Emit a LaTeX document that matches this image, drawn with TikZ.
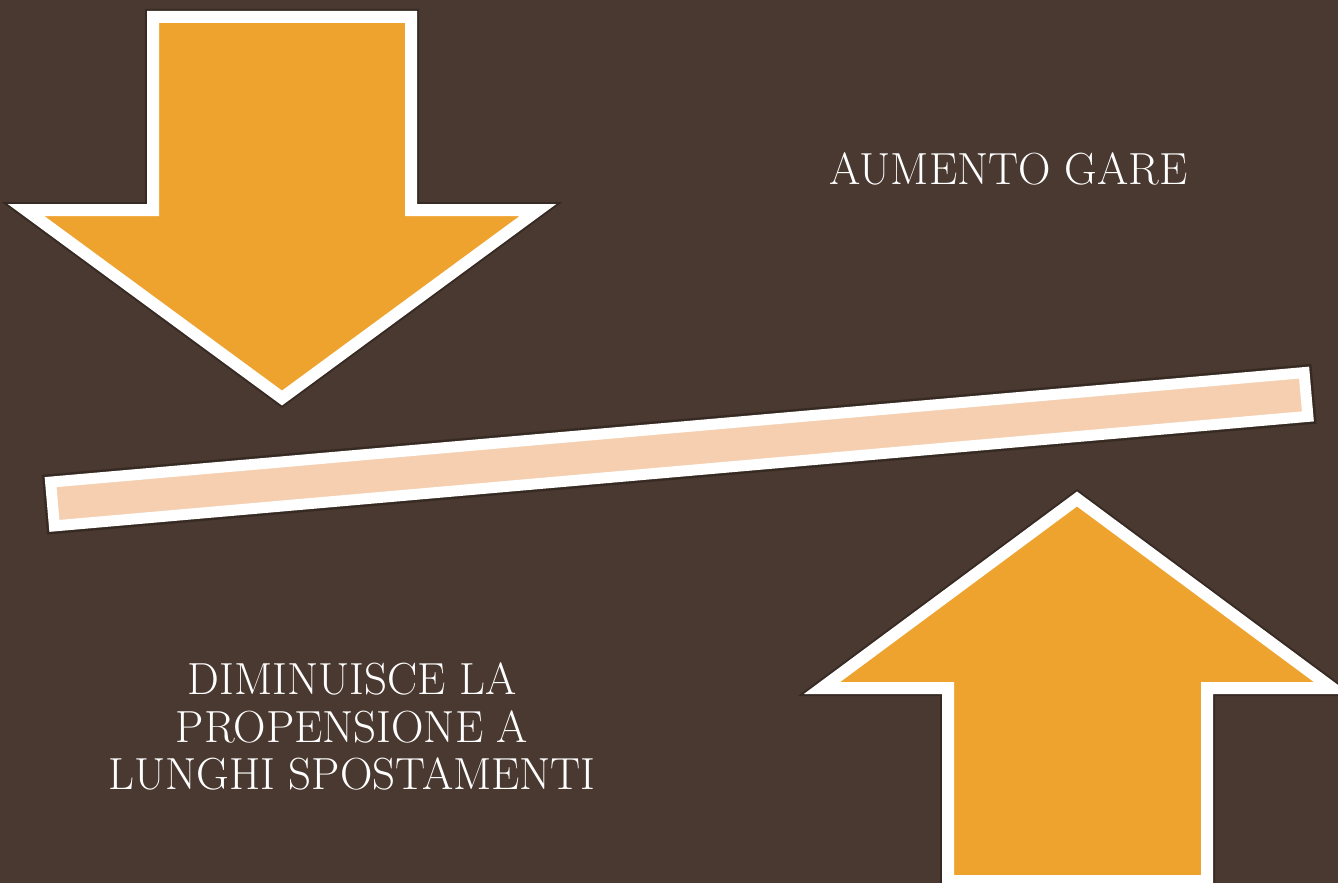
\documentclass[tikz,border=0pt]{standalone}
\usepackage{fontspec}
\begin{document}
\begin{tikzpicture}[x=1pt,y=-1pt,
  shape outline/.style={draw=white,line width=12pt,fill=arrowfill,line join=miter},
  shadow line/.style={draw=black,draw opacity=0.25,line width=16pt,line join=miter},
  label text/.style={text=white,font=\fontsize{45}{48}\selectfont,align=center,inner sep=0pt}]
\definecolor{bgbrown}{HTML}{4A3930}
\definecolor{arrowfill}{HTML}{EFA32F}
\definecolor{barfill}{HTML}{F5CFB0}
\fill[bgbrown] (0,0) rectangle (1338,883);
\useasboundingbox (0,0) rectangle (1338,883);
% down arrow
\draw[shadow line] (153,17) -- (411,17) -- (411,210) -- (538,210) -- (282,398) -- (26,210) -- (153,210) -- cycle;
\draw[shape outline] (153,17) -- (411,17) -- (411,210) -- (538,210) -- (282,398) -- (26,210) -- (153,210) -- cycle;
% up arrow
\draw[shadow line] (948,881) -- (948,688) -- (822,688) -- (1077,499) -- (1332,688) -- (1207,688) -- (1207,881) -- cycle;
\draw[shape outline] (948,881) -- (948,688) -- (822,688) -- (1077,499) -- (1332,688) -- (1207,688) -- (1207,881) -- cycle;
% bar
\draw[shadow line] (50.6,482.1) -- (1304.1,372.6) -- (1307.9,416.4) -- (54.4,525.9) -- cycle;
\draw[shape outline,fill=barfill,line width=11pt] (50.6,482.1) -- (1304.1,372.6) -- (1307.9,416.4) -- (54.4,525.9) -- cycle;
% texts
\node[label text,anchor=base] (up) at (1008.5,184) {AUMENTO GARE};
\node[label text,anchor=base] (down1) at (352,694) {DIMINUISCE LA};
\node[label text,anchor=base] (down2) at (352,742) {PROPENSIONE A};
\node[label text,anchor=base] (down3) at (352,789) {LUNGHI SPOSTAMENTI};
\end{tikzpicture}
\end{document}
